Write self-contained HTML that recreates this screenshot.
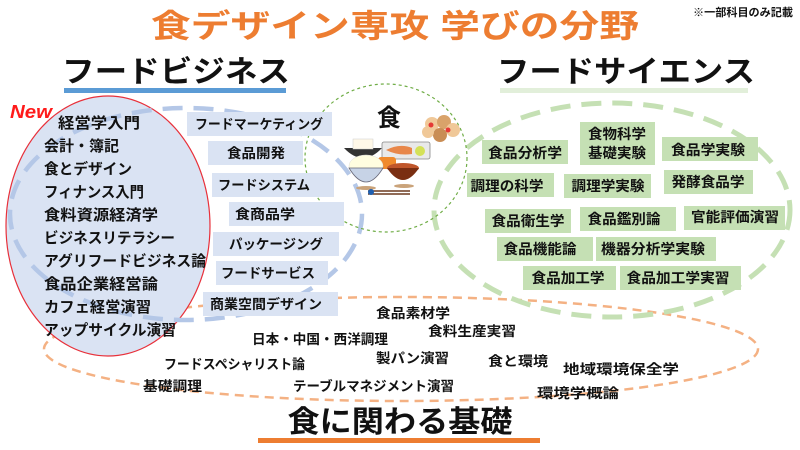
<!DOCTYPE html>
<html><head><meta charset="utf-8"><style>
html,body{margin:0;padding:0;background:#fff;}
svg{display:block;}
text{font-family:"Liberation Sans","Noto Sans CJK JP",sans-serif;font-weight:bold;fill:#111;}
</style></head><body>
<svg width="800" height="450" viewBox="0 0 800 450" xmlns="http://www.w3.org/2000/svg">
<!-- titles -->
<text x="395" y="37" font-size="32" text-anchor="middle" style="fill:#ed7d31" textLength="488" lengthAdjust="spacingAndGlyphs">食デザイン専攻 学びの分野</text>
<text x="693" y="16" font-size="11" textLength="100" lengthAdjust="spacingAndGlyphs">※一部科目のみ記載</text>
<text x="62" y="82" font-size="30" textLength="228" lengthAdjust="spacingAndGlyphs">フードビジネス</text>
<rect x="64" y="88" width="222" height="5" fill="#5b9bd5"/>
<text x="497" y="82" font-size="30" textLength="258" lengthAdjust="spacingAndGlyphs">フードサイエンス</text>
<rect x="500" y="88" width="248" height="5" fill="#e2efda"/>

<!-- orange ellipse -->
<ellipse cx="401" cy="349" rx="357" ry="52" fill="none" stroke="#f4b183" stroke-width="2.5" stroke-dasharray="9 6"/>

<!-- red ellipse -->
<ellipse cx="108" cy="226" rx="102" ry="130" fill="#dae3f3" stroke="#e8303a" stroke-width="1.2"/>
<!-- blue dashed -->
<ellipse cx="186" cy="214" rx="176" ry="106" fill="none" stroke="#b4c7e7" stroke-width="4.5" stroke-dasharray="20 11"/>

<!-- green ellipse -->
<ellipse cx="612" cy="210" rx="178" ry="107" fill="none" stroke="#c5e0b4" stroke-width="5" stroke-dasharray="20 11"/>

<!-- food circle -->
<ellipse cx="386" cy="158" rx="81" ry="74" fill="none" stroke="#70ad47" stroke-width="1.2" stroke-dasharray="3 3"/>
<text x="389" y="126" font-size="24" text-anchor="middle">食</text>
<!-- cookies -->
<g>
<circle cx="432" cy="124" r="7" fill="#f0c898"/><circle cx="444" cy="122" r="7" fill="#d9a36a"/><circle cx="453" cy="130" r="7" fill="#f0c898"/><circle cx="440" cy="135" r="7" fill="#c98d55"/><circle cx="428" cy="132" r="6" fill="#f0c898"/>
<circle cx="431" cy="125" r="2.5" fill="#e53935"/><circle cx="448" cy="130" r="2.5" fill="#e53935"/>
</g>
<!-- tofu bowl -->
<path d="M344 148 Q363 168 382 148 Z" fill="#333"/>
<rect x="353" y="139" width="20" height="10" fill="#fff8e8" stroke="#ccc" stroke-width="0.5"/>
<!-- fish plate -->
<rect x="382" y="142" width="48" height="17" rx="2" fill="#e9e9e9" stroke="#888" stroke-width="0.8"/>
<path d="M386 150 Q400 143 412 148 L412 154 Q398 156 386 150Z" fill="#e8874a"/>
<circle cx="420" cy="151" r="5" fill="#d4e157"/>
<!-- orange small dish -->
<rect x="378" y="157" width="18" height="12" rx="3" fill="#f08a2c"/>
<!-- rice bowl -->
<ellipse cx="366" cy="166" rx="17" ry="11" fill="#fffde0" stroke="#ddd" stroke-width="0.5"/>
<path d="M349 168 Q366 196 383 168 Z" fill="#c7d3e6" stroke="#667" stroke-width="0.8"/>
<ellipse cx="366" cy="188" rx="10" ry="2" fill="#caa37a"/>
<!-- miso -->
<ellipse cx="403" cy="168" rx="16" ry="5" fill="#c0562b"/>
<path d="M387 168 Q403 192 419 168 Z" fill="#7a2e12"/>
<ellipse cx="404" cy="186" rx="10" ry="2" fill="#caa37a"/>
<!-- chopsticks -->
<line x1="368" y1="191" x2="410" y2="191" stroke="#6b3a1f" stroke-width="1.5"/>
<line x1="368" y1="194" x2="410" y2="194" stroke="#6b3a1f" stroke-width="1.5"/>
<circle cx="371" cy="192" r="3" fill="#1f5fb0"/>

<!-- New -->
<text x="10" y="118" font-size="18" font-style="italic" style="fill:#ff1a1a" textLength="42" lengthAdjust="spacingAndGlyphs">New</text>

<!-- left list -->
<g font-size="15">
<text x="58" y="128" textLength="82" lengthAdjust="spacingAndGlyphs">経営学入門</text>
<text x="44" y="151" textLength="75" lengthAdjust="spacingAndGlyphs">会計・簿記</text>
<text x="44" y="174" textLength="88" lengthAdjust="spacingAndGlyphs">食とデザイン</text>
<text x="44" y="197" textLength="100" lengthAdjust="spacingAndGlyphs">フィナンス入門</text>
<text x="44" y="220" textLength="114" lengthAdjust="spacingAndGlyphs">食料資源経済学</text>
<text x="44" y="243" textLength="131" lengthAdjust="spacingAndGlyphs">ビジネスリテラシー</text>
<text x="44" y="266" textLength="162" lengthAdjust="spacingAndGlyphs">アグリフードビジネス論</text>
<text x="44" y="289" textLength="114" lengthAdjust="spacingAndGlyphs">食品企業経営論</text>
<text x="44" y="312" textLength="107" lengthAdjust="spacingAndGlyphs">カフェ経営演習</text>
<text x="44" y="335" textLength="132" lengthAdjust="spacingAndGlyphs">アップサイクル演習</text>
</g>

<!-- blue boxes -->
<g fill="#dae3f3">
<rect x="187" y="112" width="145" height="24"/>
<rect x="208" y="141" width="95" height="24"/>
<rect x="212" y="173" width="122" height="24"/>
<rect x="229" y="202" width="115" height="24"/>
<rect x="213" y="232" width="126" height="24"/>
<rect x="216" y="261" width="112" height="24"/>
<rect x="203" y="292" width="135" height="24"/>
</g>
<g font-size="13.5" text-anchor="middle">
<text x="259" y="129" textLength="128" lengthAdjust="spacingAndGlyphs">フードマーケティング</text>
<text x="256" y="158" textLength="58" lengthAdjust="spacingAndGlyphs">食品開発</text>
<text x="264" y="190" textLength="92" lengthAdjust="spacingAndGlyphs">フードシステム</text>
<text x="265" y="219" textLength="60" lengthAdjust="spacingAndGlyphs">食商品学</text>
<text x="276" y="249" textLength="94" lengthAdjust="spacingAndGlyphs">パッケージング</text>
<text x="268" y="278" textLength="94" lengthAdjust="spacingAndGlyphs">フードサービス</text>
<text x="266" y="309" textLength="112" lengthAdjust="spacingAndGlyphs">商業空間デザイン</text>
</g>

<!-- green boxes -->
<g fill="#c5e0b4">
<rect x="482" y="140" width="86" height="24"/>
<rect x="580" y="122" width="75" height="43"/>
<rect x="662" y="137" width="96" height="24"/>
<rect x="467" y="173" width="87" height="24"/>
<rect x="564" y="174" width="87" height="24"/>
<rect x="664" y="170" width="89" height="24"/>
<rect x="485" y="209" width="86" height="24"/>
<rect x="580" y="207" width="96" height="24"/>
<rect x="684" y="206" width="101" height="24"/>
<rect x="497" y="237" width="96" height="24"/>
<rect x="596" y="237" width="120" height="24"/>
<rect x="523" y="266" width="93" height="24"/>
<rect x="620" y="266" width="121" height="24"/>
</g>
<g font-size="14" text-anchor="middle">
<text x="525" y="158" textLength="74" lengthAdjust="spacingAndGlyphs">食品分析学</text>
<text x="617" y="139" textLength="58" lengthAdjust="spacingAndGlyphs">食物科学</text>
<text x="617" y="158" textLength="58" lengthAdjust="spacingAndGlyphs">基礎実験</text>
<text x="708" y="155" textLength="74" lengthAdjust="spacingAndGlyphs">食品学実験</text>
<text x="507" y="191" textLength="73" lengthAdjust="spacingAndGlyphs">調理の科学</text>
<text x="608" y="191" textLength="73" lengthAdjust="spacingAndGlyphs">調理学実験</text>
<text x="708" y="187" textLength="73" lengthAdjust="spacingAndGlyphs">発酵食品学</text>
<text x="528" y="226" textLength="73" lengthAdjust="spacingAndGlyphs">食品衛生学</text>
<text x="624" y="224" textLength="73" lengthAdjust="spacingAndGlyphs">食品鑑別論</text>
<text x="735" y="222" textLength="88" lengthAdjust="spacingAndGlyphs">官能評価演習</text>
<text x="540" y="254" textLength="73" lengthAdjust="spacingAndGlyphs">食品機能論</text>
<text x="653" y="254" textLength="104" lengthAdjust="spacingAndGlyphs">機器分析学実験</text>
<text x="568" y="283" textLength="73" lengthAdjust="spacingAndGlyphs">食品加工学</text>
<text x="678" y="283" textLength="103" lengthAdjust="spacingAndGlyphs">食品加工学実習</text>
</g>

<!-- bottom -->
<g font-size="13.5">
<text x="376" y="318" textLength="74" lengthAdjust="spacingAndGlyphs">食品素材学</text>
<text x="428" y="336" textLength="88" lengthAdjust="spacingAndGlyphs">食料生産実習</text>
<text x="252" y="344" textLength="136" lengthAdjust="spacingAndGlyphs">日本・中国・西洋調理</text>
<text x="376" y="363" textLength="73" lengthAdjust="spacingAndGlyphs">製パン演習</text>
<text x="488" y="366" textLength="60" lengthAdjust="spacingAndGlyphs">食と環境</text>
<text x="563" y="374" textLength="116" lengthAdjust="spacingAndGlyphs">地域環境保全学</text>
<text x="164" y="369" textLength="141" lengthAdjust="spacingAndGlyphs">フードスペシャリスト論</text>
<text x="143" y="391" textLength="59" lengthAdjust="spacingAndGlyphs">基礎調理</text>
<text x="293" y="391" textLength="161" lengthAdjust="spacingAndGlyphs">テーブルマネジメント演習</text>
<text x="537" y="398" textLength="82" lengthAdjust="spacingAndGlyphs">環境学概論</text>
</g>
<text x="400" y="432" font-size="30" text-anchor="middle" textLength="225" lengthAdjust="spacingAndGlyphs">食に関わる基礎</text>
<rect x="258" y="438" width="282" height="5" fill="#ed7d31"/>
</svg>
</body></html>
